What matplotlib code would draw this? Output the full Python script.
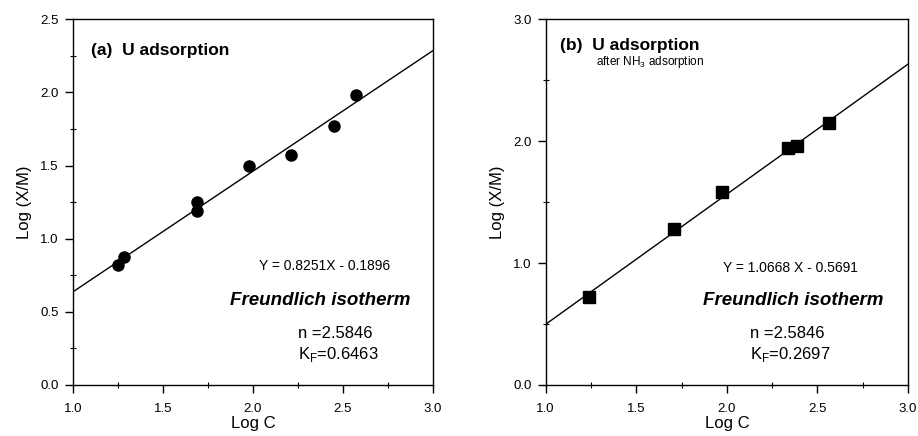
import matplotlib
matplotlib.use("Agg")
import matplotlib.pyplot as plt
from matplotlib.ticker import MultipleLocator, FormatStrFormatter

plt.rcParams['font.family'] = ['Liberation Sans', 'DejaVu Sans']

# Panel (a): U adsorption
logC_a = [1.253, 1.285, 1.691, 1.691, 1.980, 2.214, 2.449, 2.575]
logXM_a = [0.820, 0.872, 1.248, 1.190, 1.498, 1.571, 1.769, 1.981]
slope_a, icpt_a = 0.8251, -0.1896

# Panel (b): U adsorption after NH3 adsorption
logC_b = [1.239, 1.708, 1.973, 2.338, 2.389, 2.564]
logXM_b = [0.724, 1.276, 1.579, 1.945, 1.959, 2.145]
slope_b, icpt_b = 1.0668, -0.5691

fit_x = [1.0, 3.0]

fig = plt.figure(figsize=(9.18, 4.36), dpi=100)
axA = fig.add_axes([0.0792, 0.117, 0.3925, 0.839])
axB = fig.add_axes([0.5944, 0.117, 0.3947, 0.839])

def style(ax, ymax, ymajor, yminor):
    ax.set_xlim(1.0, 3.0)
    ax.set_ylim(0.0, ymax)
    ax.xaxis.set_major_locator(MultipleLocator(0.5))
    ax.xaxis.set_minor_locator(MultipleLocator(0.25))
    ax.yaxis.set_major_locator(MultipleLocator(ymajor))
    ax.yaxis.set_minor_locator(MultipleLocator(yminor))
    ax.xaxis.set_major_formatter(FormatStrFormatter('%.1f'))
    ax.yaxis.set_major_formatter(FormatStrFormatter('%.1f'))
    ax.tick_params(which='major', direction='out', length=6, width=1, labelsize=9.5, pad=4)
    ax.tick_params(axis='x', which='major', pad=7)
    ax.tick_params(which='minor', direction='inout', length=5, width=0.8)
    for s in ax.spines.values():
        s.set_linewidth(1.0)
    ax.set_xlabel('Log C', fontsize=12, labelpad=1)
    ax.set_ylabel('Log (X/M)', fontsize=12, labelpad=6)

style(axA, 2.5, 0.5, 0.25)
style(axB, 3.0, 1.0, 0.5)

axA.plot(fit_x, [slope_a * x + icpt_a for x in fit_x], color='black', lw=1.0)
axA.plot(logC_a, logXM_a, 'o', color='black', ms=8, clip_on=False)

axB.plot(fit_x, [slope_b * x + icpt_b for x in fit_x], color='black', lw=1.0)
axB.plot(logC_b, logXM_b, 's', color='black', ms=9, clip_on=False)

# Texts panel (a)
axA.text(0.05, 0.915, '(a)  U adsorption', transform=axA.transAxes, fontsize=12.5,
         fontweight='bold', va='center', ha='left')
axA.text(0.70, 0.326, 'Y = 0.8251X - 0.1896', transform=axA.transAxes, fontsize=10,
         va='center', ha='center')
axA.text(0.686, 0.23, 'Freundlich isotherm', transform=axA.transAxes, fontsize=13.5,
         fontweight='bold', style='italic', va='center', ha='center')
axA.text(0.626, 0.141, 'n =2.5846', transform=axA.transAxes, fontsize=12,
         va='center', ha='left')
axA.text(0.626, 0.084, r'K$_{\mathregular{F}}$=0.6463', transform=axA.transAxes, fontsize=12,
         va='center', ha='left')

# Texts panel (b)
axB.text(0.039, 0.929, '(b)  U adsorption', transform=axB.transAxes, fontsize=12.5,
         fontweight='bold', va='center', ha='left')
axB.text(0.138, 0.883, r'after NH$_{\mathregular{3}}$ adsorption', transform=axB.transAxes,
         fontsize=8.5, va='center', ha='left')
axB.text(0.676, 0.319, 'Y = 1.0668 X - 0.5691', transform=axB.transAxes, fontsize=10,
         va='center', ha='center')
axB.text(0.683, 0.23, 'Freundlich isotherm', transform=axB.transAxes, fontsize=13.5,
         fontweight='bold', style='italic', va='center', ha='center')
axB.text(0.565, 0.141, 'n =2.5846', transform=axB.transAxes, fontsize=12,
         va='center', ha='left')
axB.text(0.565, 0.084, r'K$_{\mathregular{F}}$=0.2697', transform=axB.transAxes, fontsize=12,
         va='center', ha='left')

fig.savefig('out.png', dpi=100)
